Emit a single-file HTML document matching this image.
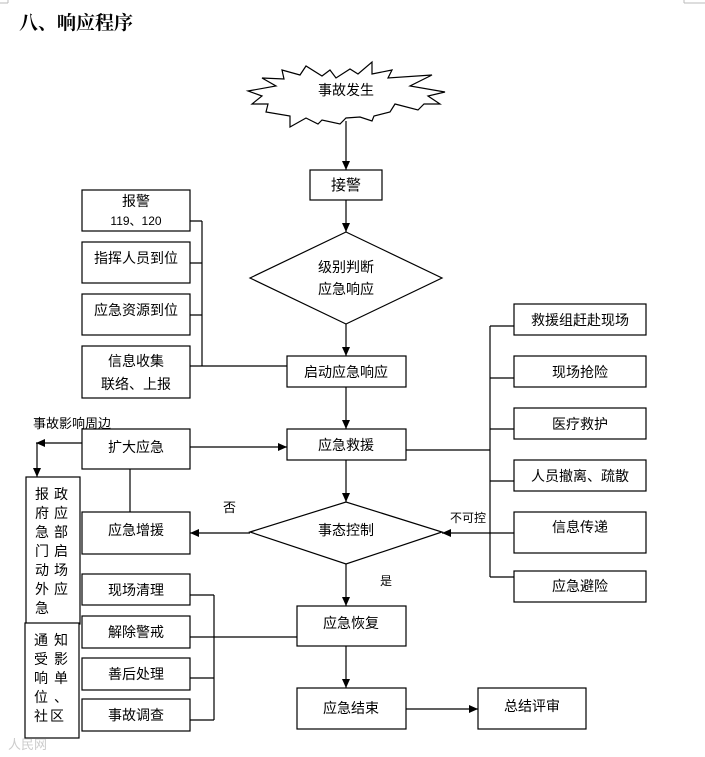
<!DOCTYPE html>
<html><head><meta charset="utf-8"><style>
body{margin:0;background:#fff;}
svg{display:block;font-family:"Liberation Sans","Noto Sans CJK SC",sans-serif;}
text{font-size:14px;fill:#000;}
</style></head><body>
<svg width="705" height="757" viewBox="0 0 705 757" xmlns="http://www.w3.org/2000/svg">
<defs><marker id="a" markerWidth="10" markerHeight="10" refX="9" refY="5" orient="auto" markerUnits="userSpaceOnUse"><path d="M0,1 L9,5 L0,9 z" fill="#000"/></marker></defs>
<g stroke="#bbb" stroke-width="1" fill="none"><path d="M0,3 H8 M8,0 V3"/><path d="M684,3 H705 M684,0 V3"/></g>
<text x="19" y="29" style="font-family:'Liberation Serif','Noto Serif CJK SC',serif;font-size:19px;font-weight:bold">八、响应程序</text>
<g stroke="#000" stroke-width="1.2" fill="#fff">
<polygon points="330,70 336,78 350,69 358,74 372,62 372,74 392,70 388,78 432,75 410,86 445,92 428,96 440,104 424,104 418,110 395,104 390,112 374,116 372,121 360,117 346,118 340,124 322,120 318,124 306,118 290,127 290,116 266,112 268,104 252,104 262,96 248,91 276,86 262,78 284,79 282,70 300,75 306,66 322,76"/>
<rect x="310" y="170" width="72" height="30"/>
<polygon points="250,278 346,232 442,278 346,324"/>
<rect x="82" y="190" width="108" height="41"/>
<rect x="82" y="242" width="108" height="41"/>
<rect x="82" y="294" width="108" height="41"/>
<rect x="82" y="346" width="108" height="52"/>
<rect x="287" y="356" width="119" height="31"/>
<rect x="287" y="429" width="119" height="31"/>
<rect x="82" y="429" width="108" height="40"/>
<polygon points="250,532 346,502 442,532 346,564"/>
<rect x="82" y="512" width="108" height="42"/>
<rect x="514" y="304" width="132" height="31"/>
<rect x="514" y="356" width="132" height="31"/>
<rect x="514" y="408" width="132" height="31"/>
<rect x="514" y="460" width="132" height="31"/>
<rect x="514" y="512" width="132" height="41"/>
<rect x="514" y="571" width="132" height="31"/>
<rect x="297" y="606" width="109" height="40"/>
<rect x="82" y="574" width="108" height="31"/>
<rect x="82" y="616" width="108" height="32"/>
<rect x="82" y="658" width="108" height="32"/>
<rect x="82" y="699" width="108" height="32"/>
<rect x="297" y="688" width="109" height="41"/>
<rect x="478" y="688" width="108" height="41"/>
<rect x="26" y="477" width="54" height="147"/>
<rect x="25" y="623" width="54" height="115"/>
</g>
<g stroke="#000" stroke-width="1.2" fill="none">
<line x1="346" y1="121" x2="346" y2="170" marker-end="url(#a)"/>
<line x1="346" y1="200" x2="346" y2="232" marker-end="url(#a)"/>
<line x1="346" y1="324" x2="346" y2="356" marker-end="url(#a)"/>
<line x1="346" y1="387" x2="346" y2="429" marker-end="url(#a)"/>
<line x1="346" y1="460" x2="346" y2="502" marker-end="url(#a)"/>
<line x1="346" y1="564" x2="346" y2="606" marker-end="url(#a)"/>
<line x1="346" y1="646" x2="346" y2="688" marker-end="url(#a)"/>
<line x1="406" y1="709" x2="478" y2="709" marker-end="url(#a)"/>
<path d="M190,221 H202 M190,263 H202 M190,315 H202 M190,366 H287 M202,221 V366"/>
<line x1="190" y1="447" x2="287" y2="447" marker-end="url(#a)"/>
<line x1="130" y1="469" x2="130" y2="512"/>
<line x1="250" y1="533" x2="190" y2="533" marker-end="url(#a)"/>
<path d="M406,450 H490 M490,326 V577 M490,326 H514 M490,378 H514 M490,429 H514 M490,481 H514 M490,577 H514"/>
<line x1="514" y1="533" x2="442" y2="533" marker-end="url(#a)"/>
<path d="M190,595 H214 M190,637 H297 M190,678 H214 M190,720 H214 M214,595 V720"/>
<line x1="82" y1="443" x2="36" y2="443" marker-end="url(#a)"/>
<line x1="37" y1="443" x2="37" y2="477" marker-end="url(#a)"/>
</g>
<g text-anchor="middle">
<text x="346" y="95">事故发生</text>
<text x="346" y="190" style="font-size:15px">接警</text>
<text x="346" y="272">级别判断</text>
<text x="346" y="294">应急响应</text>
<text x="136" y="206">报警</text>
<text x="136" y="225" style="font-size:12px">119、120</text>
<text x="136" y="263">指挥人员到位</text>
<text x="136" y="315">应急资源到位</text>
<text x="136" y="366">信息收集</text>
<text x="136" y="389">联络、上报</text>
<text x="346" y="377">启动应急响应</text>
<text x="346" y="450">应急救援</text>
<text x="136" y="452">扩大应急</text>
<text x="346" y="535">事态控制</text>
<text x="136" y="535">应急增援</text>
<text x="580" y="325">救援组赶赴现场</text>
<text x="580" y="377">现场抢险</text>
<text x="580" y="429">医疗救护</text>
<text x="580" y="481">人员撤离、疏散</text>
<text x="580" y="532">信息传递</text>
<text x="580" y="591">应急避险</text>
<text x="351" y="628">应急恢复</text>
<text x="136" y="595">现场清理</text>
<text x="136" y="637">解除警戒</text>
<text x="136" y="679">善后处理</text>
<text x="136" y="720">事故调查</text>
<text x="351" y="713">应急结束</text>
<text x="532" y="711">总结评审</text>
</g>
<text x="33" y="428" style="font-size:13px">事故影响周边</text>
<text x="223" y="512" style="font-size:13px">否</text>
<text x="450" y="522" style="font-size:12px">不可控</text>
<text x="380" y="585" style="font-size:12px">是</text>
<g style="font-size:15px">
<text x="35" y="499">报</text><text x="54" y="499">政</text>
<text x="35" y="518">府</text><text x="54" y="518">应</text>
<text x="35" y="537">急</text><text x="54" y="537">部</text>
<text x="35" y="556">门</text><text x="54" y="556">启</text>
<text x="35" y="575">动</text><text x="54" y="575">场</text>
<text x="35" y="594">外</text><text x="54" y="594">应</text>
<text x="35" y="613">急</text>
<text x="34" y="645">通</text><text x="54" y="645">知</text>
<text x="34" y="664">受</text><text x="54" y="664">影</text>
<text x="34" y="683">响</text><text x="54" y="683">单</text>
<text x="34" y="702">位</text><text x="54" y="702">、</text>
<text x="34" y="721">社</text><text x="50" y="721">区</text>
</g>
<text x="8" y="749" style="font-size:13px;fill:#ccc">人民网</text>
</svg>
</body></html>
